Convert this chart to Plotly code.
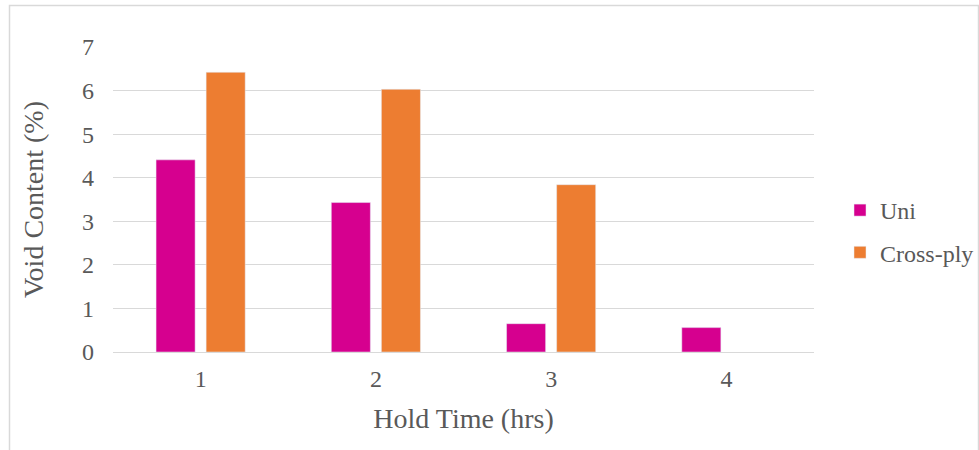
import plotly.graph_objects as go

categories = ["1", "2", "3", "4"]
uni = [4.41, 3.43, 0.65, 0.56]
cross_ply = [6.42, 6.03, 3.84, None]
y_ticks = [0, 1, 2, 3, 4, 5, 6, 7]

FONT = "Liberation Serif, Times New Roman, serif"
TXT = "#595959"
GRID = "#D9D9D9"

fig = go.Figure()
fig.add_trace(go.Bar(x=categories, y=uni, name="Uni", marker_color="#D6008F",
                     legendgroup="a"))
fig.add_trace(go.Bar(x=categories, y=cross_ply, name="Cross-ply", marker_color="#ED7D31",
                     legendgroup="b"))

L, R, T, B = 113, 979 - 814, 47, 450 - 352
pw = 979 - L - R
ph = 450 - T - B

def px2x(p):
    return (p - L) / pw

def py2y(p):
    return (450 - B - p) / ph

fig.update_layout(
    width=979, height=450,
    margin=dict(l=L, r=R, t=T, b=B, autoexpand=False),
    paper_bgcolor="white", plot_bgcolor="white",
    font=dict(family=FONT, color=TXT, size=24),
    barmode="group", bargap=0.4286, bargroupgap=0.22,
    xaxis=dict(
        type="category", showgrid=False, showline=False, zeroline=False,
        tickfont=dict(size=24, color=TXT), ticklabelstandoff=10,
        title=dict(text="Hold Time (hrs)", font=dict(size=28, color=TXT), standoff=17),
    ),
    yaxis=dict(
        range=[0, 7], tickvals=y_ticks, showgrid=True, gridcolor=GRID, gridwidth=1,
        zeroline=True, zerolinecolor=GRID, zerolinewidth=1, showline=False,
        tickfont=dict(size=24, color=TXT), ticklabelstandoff=18,
        title=dict(text="Void Content (%)", font=dict(size=28, color=TXT), standoff=30),
    ),
    legend=dict(
        x=px2x(840), xanchor="left", y=py2y(231.5), yanchor="middle",
        font=dict(size=24, color=TXT), tracegroupgap=8,
        bgcolor="rgba(0,0,0,0)", itemwidth=30,
    ),
    showlegend=True,
    shapes=[dict(
        type="rect", xref="paper", yref="paper",
        x0=px2x(9.5), x1=px2x(978.5), y0=py2y(455), y1=py2y(5.5),
        line=dict(color=GRID, width=1.5), fillcolor="rgba(0,0,0,0)", layer="below",
    )],
)

fig.write_html("out.html", config={"displayModeBar": False},
               post_script="document.body.style.margin='0px';")
